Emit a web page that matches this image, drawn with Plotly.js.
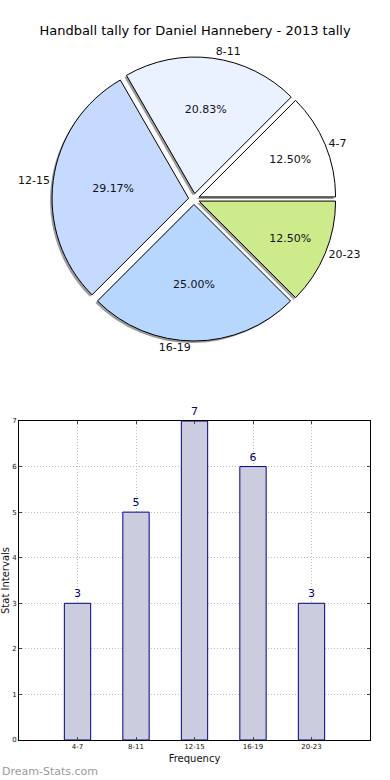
<!DOCTYPE html>
<html>
<head>
<meta charset="utf-8">
<script src="https://cdn.plot.ly/plotly-3.0.1.min.js"></script>
<style>html,body{margin:0;padding:0;background:#fff}#chart{width:390px;height:780px}</style>
</head>
<body>
<div id="chart"></div>
<script>
const categories = ["4-7", "8-11", "12-15", "16-19", "20-23"];
const counts = [3, 5, 7, 6, 3];
const sliceColors = ["#ffffff", "#eaf1ff", "#c6d9ff", "#b7d7ff", "#cdeb8b"];
const titleText = "Handball tally for Daniel Hannebery - 2013 tally";

const W = 390, H = 780;
const cx = 194, cy = 199, half = 142;
const px = v => v / W, py = v => v / H;
const pieDomain = {x: [px(cx - half), px(cx + half)], y: [1 - py(cy + half), 1 - py(cy - half)]};
const shadowDomain = {x: [px(cx - half - 2), px(cx + half - 2)], y: [1 - py(cy + half + 2), 1 - py(cy - half + 2)]};
const pull = categories.map(() => 0.04);
const font = "DejaVu Sans, sans-serif";

const shadow = {
  type: "pie", labels: categories, values: counts, sort: false,
  direction: "counterclockwise", rotation: 45, pull: pull, domain: shadowDomain,
  marker: {colors: categories.map(() => "rgba(90,90,90,0.6)"), line: {width: 0}},
  textinfo: "none", hoverinfo: "skip", showlegend: false
};
const main = {
  type: "pie", labels: categories, values: counts, sort: false,
  direction: "counterclockwise", rotation: 45, pull: pull, domain: pieDomain,
  marker: {colors: sliceColors, line: {color: "#000", width: 1}},
  texttemplate: "%{percent:.2%}", textposition: "inside", insidetextorientation: "horizontal",
  textfont: {family: font, size: 11, color: "#111"}, showlegend: false
};
const labelsPie = {
  type: "pie", labels: categories, values: counts, sort: false,
  direction: "counterclockwise", rotation: 45, pull: pull, domain: pieDomain,
  marker: {colors: categories.map(() => "rgba(0,0,0,0)"), line: {width: 0}},
  textinfo: "label", textposition: "outside", automargin: false,
  outsidetextfont: {family: font, size: 11, color: "#111"}, hoverinfo: "skip", showlegend: false
};
const bars = {
  type: "bar", x: categories, y: counts, xaxis: "x", yaxis: "y", width: 0.45,
  marker: {color: "#ccccdf", line: {color: "#000080", width: 1}},
  text: counts.map(String), textposition: "outside", cliponaxis: false,
  textfont: {family: font, size: 11, color: "#000080"}, showlegend: false
};

const layout = {
  width: W, height: H, margin: {l: 0, r: 0, t: 0, b: 0},
  paper_bgcolor: "#fff", plot_bgcolor: "#fff",
  font: {family: font, color: "#111"},
  title: {text: titleText, x: 0.5, xanchor: "center", y: 1 - py(30), yanchor: "middle", yref: "container",
          font: {family: font, size: 13, color: "#000"}},
  xaxis: {domain: [px(19), px(370)], range: [-1, 5], anchor: "y", type: "category",
          showline: true, linecolor: "#000", linewidth: 1, mirror: "ticks", ticks: "inside", ticklen: 3,
          showgrid: true, gridcolor: "#bdbdbd", griddash: "1px,2px", gridwidth: 1,
          tickfont: {size: 7, color: "#111"}, zeroline: false,
          title: {text: "Frequency", font: {size: 10, color: "#111"}, standoff: 4}},
  yaxis: {domain: [1 - py(740), 1 - py(421)], range: [0, 7], dtick: 1, anchor: "x",
          showline: true, linecolor: "#000", linewidth: 1, mirror: "ticks", ticks: "inside", ticklen: 3,
          showgrid: true, gridcolor: "#bdbdbd", griddash: "1px,2px", gridwidth: 1,
          tickfont: {size: 7, color: "#111"}, zeroline: false,
          title: {text: "Stat Intervals", font: {size: 10, color: "#111"}, standoff: 2}},
  annotations: [{text: "Dream-Stats.com", xref: "paper", yref: "paper", x: 0, y: 0,
                 xanchor: "left", yanchor: "bottom", showarrow: false,
                 font: {family: font, size: 11, color: "#9a9a9a"}}]
};

Plotly.newPlot("chart", [shadow, main, labelsPie, bars], layout, {displayModeBar: false, staticPlot: true});
</script>
</body>
</html>
